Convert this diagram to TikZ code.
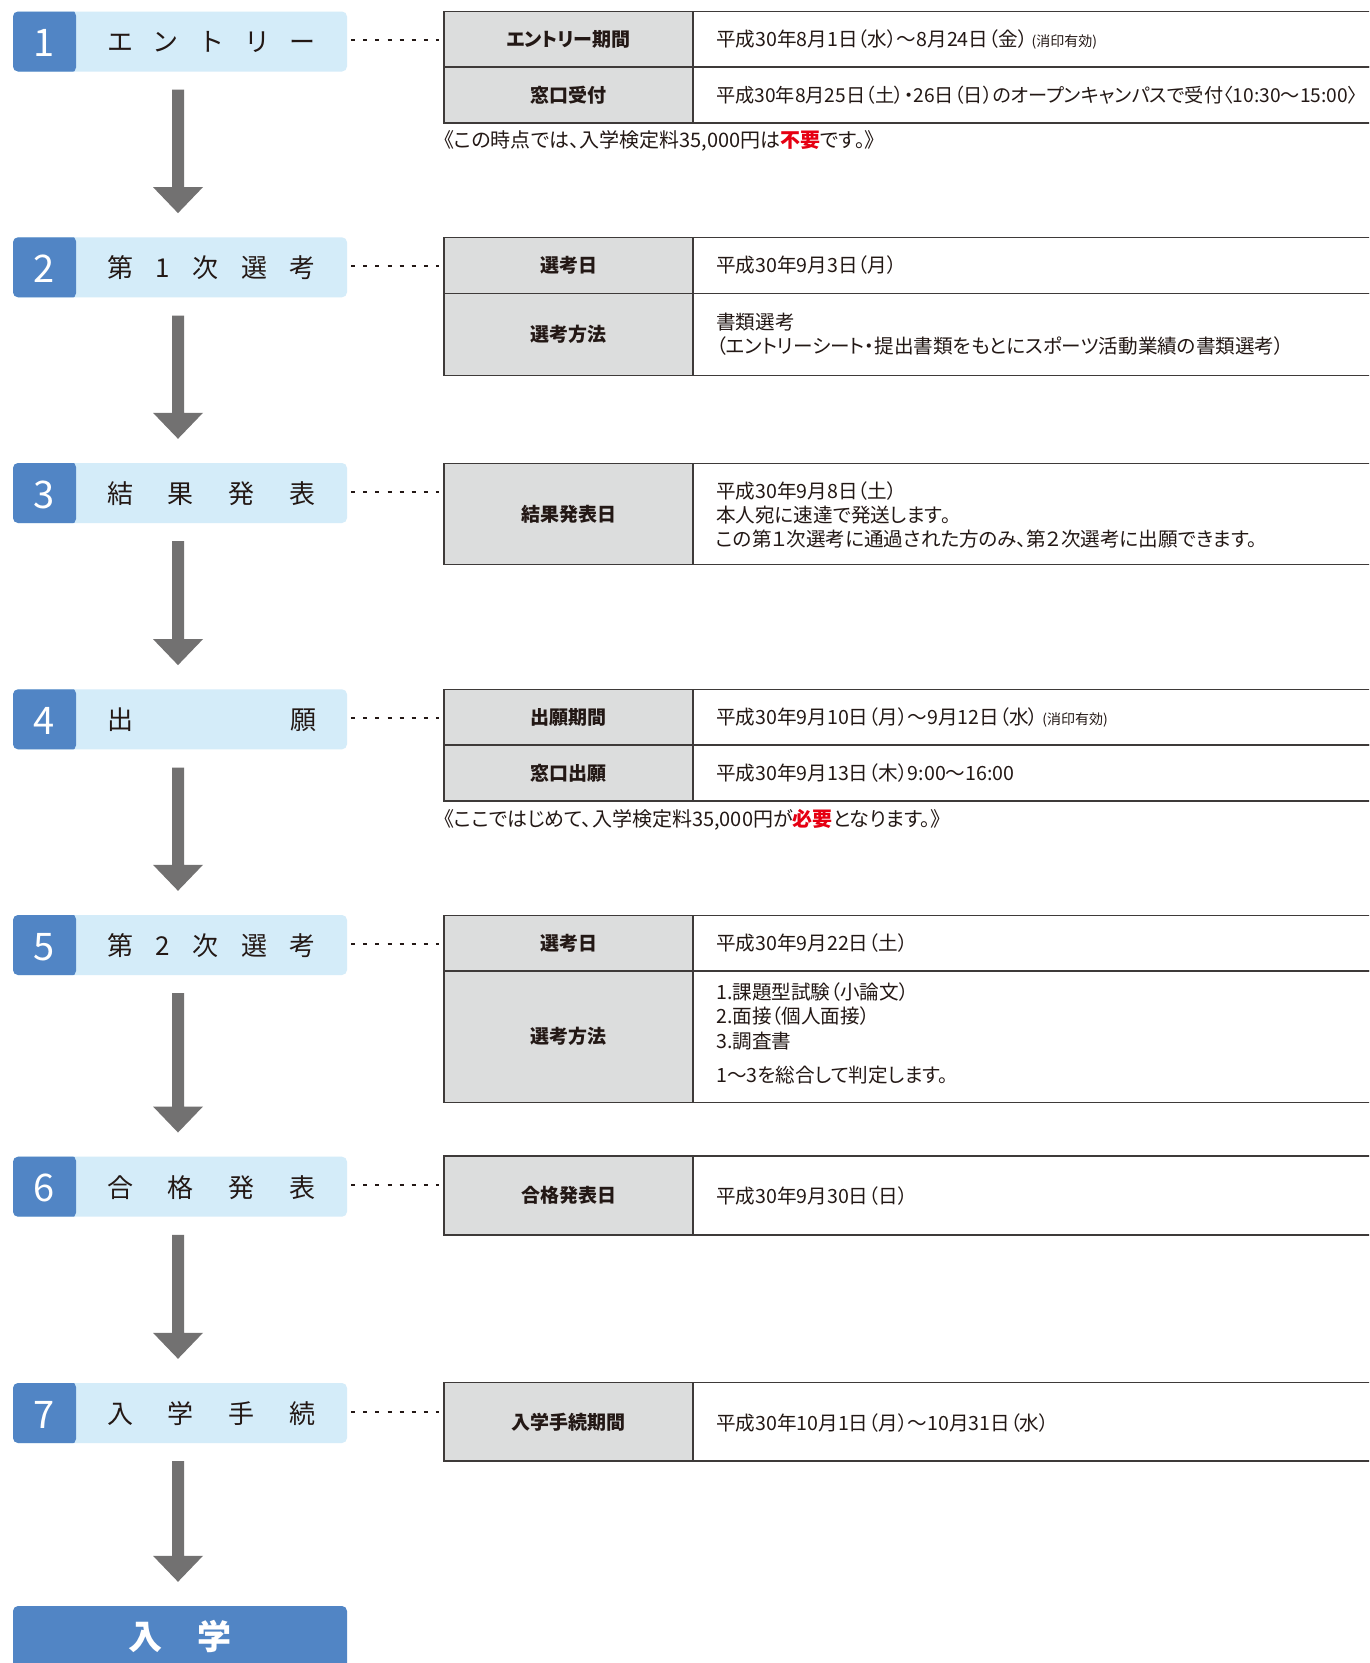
\documentclass[tikz,border=0pt]{standalone}
\usepackage{fontspec}
\setmainfont{Noto Sans CJK JP}[RawFeature=+palt]
\newfontfamily\labelfont{Noto Sans CJK JP}
\definecolor{numblue}{HTML}{5185C5}
\definecolor{lightblue}{HTML}{D4ECF9}
\definecolor{hdrgray}{HTML}{DCDDDD}
\definecolor{txt}{HTML}{231815}
\definecolor{arrgray}{HTML}{727171}
\definecolor{bordergray}{HTML}{3E3A39}
\definecolor{jpred}{HTML}{E60012}
\newcommand\flowarrow[2]{%
  \fill[arrgray] ([xshift=-8pt,yshift=-18pt]#1.south) -- ([xshift=4pt,yshift=-18pt]#1.south)
    -- ([xshift=4pt,yshift=50pt]#2.north) -- ([xshift=23pt,yshift=50pt]#2.north)
    -- ([xshift=-2pt,yshift=24pt]#2.north) -- ([xshift=-27pt,yshift=50pt]#2.north)
    -- ([xshift=-8pt,yshift=50pt]#2.north) -- cycle;}
\newcommand\smallnote[1]{\hspace{4pt}{\fontsize{14pt}{14pt}\selectfont #1}}
\begin{document}
\begin{tikzpicture}[x=1pt,y=-1pt,
  stepbox/.style={rectangle, rounded corners=5pt, fill=lightblue, minimum width=334pt,
    minimum height=60pt, inner sep=0pt,
    path picture={\fill[numblue] ([xshift=-1pt,yshift=1pt]path picture bounding box.north west)
      rectangle ([xshift=63pt,yshift=-1pt]path picture bounding box.south west);}},
  finalbox/.style={rectangle, rounded corners=5pt, fill=numblue, minimum width=334pt,
    minimum height=62pt, inner sep=0pt, text=white,
    font=\bfseries\fontsize{34pt}{34pt}\selectfont, text height=29.9pt, text depth=4.1pt},
  numtext/.style={text=white, inner sep=0pt, font=\labelfont\fontsize{38pt}{38pt}\selectfont,
    text height=28pt, text depth=0pt},
  steplabel/.style={text=txt, inner sep=0pt, font=\labelfont\fontsize{26pt}{26pt}\selectfont,
    text height=22.9pt, text depth=3.1pt},
  hdr/.style={draw=bordergray, line width=1.4pt, fill=hdrgray, minimum width=249pt, inner sep=0pt,
    text=txt, font=\bfseries\fontsize{19pt}{19pt}\selectfont, text height=16.7pt, text depth=2.3pt},
  valcell/.style={draw=bordergray, line width=1.4pt, fill=white, minimum width=700pt, inner sep=0pt},
  vt/.style={anchor=west, inner sep=0pt, text=txt, font=\fontsize{19.6pt}{19.6pt}\selectfont,
    text height=17.2pt, text depth=2.4pt},
  notet/.style={vt, font=\fontsize{20pt}{20pt}\selectfont, text height=17.6pt, text depth=2.4pt},
  dotline/.style={draw=txt, line width=2pt, dash pattern=on 4pt off 8.1pt}
]
\useasboundingbox (0,0) rectangle (1369,1663);
\clip (0,0) rectangle (1369,1663);
\fill[white] (0,0) rectangle (1369,1663);

% ---------------- step boxes ----------------
\node[stepbox] (s1) at (180,41.5) {};
\node[stepbox] (s2) at (180,267.3) {};
\node[stepbox] (s3) at (180,493) {};
\node[stepbox] (s4) at (180,719.3) {};
\node[stepbox] (s5) at (180,945) {};
\node[stepbox] (s6) at (180,1186.7) {};
\node[stepbox] (s7) at (180,1413) {};
\node[finalbox] (fin) at (180,1637) {入\hspace{36pt}学};

\node[numtext] (n1) at (44.5,42.5) {1};
\node[numtext] (n2) at (44.5,268.3) {2};
\node[numtext] (n3) at (44.5,494) {3};
\node[numtext] (n4) at (44.5,720.3) {4};
\node[numtext] (n5) at (44.5,946) {5};
\node[numtext] (n6) at (44.5,1187.7) {6};
\node[numtext] (n7) at (44.5,1414) {7};

\node[steplabel] (l1) at (211.5,42) {\makebox[209pt][s]{エ\hfill ン\hfill ト\hfill リ\hfill ー}};
\node[steplabel] (l2) at (211.5,267.8) {\makebox[209pt][s]{第\hfill 1\hfill 次\hfill 選\hfill 考}};
\node[steplabel] (l3) at (211.5,493.5) {\makebox[209pt][s]{結\hfill 果\hfill 発\hfill 表}};
\node[steplabel] (l4) at (211.5,719.8) {\makebox[209pt][s]{出\hfill 願}};
\node[steplabel] (l5) at (211.5,945.5) {\makebox[209pt][s]{第\hfill 2\hfill 次\hfill 選\hfill 考}};
\node[steplabel] (l6) at (211.5,1187.2) {\makebox[209pt][s]{合\hfill 格\hfill 発\hfill 表}};
\node[steplabel] (l7) at (211.5,1413.5) {\makebox[209pt][s]{入\hfill 学\hfill 手\hfill 続}};

% ---------------- arrows ----------------
\flowarrow{s1}{s2}
\flowarrow{s2}{s3}
\flowarrow{s3}{s4}
\flowarrow{s4}{s5}
\flowarrow{s5}{s6}
\flowarrow{s6}{s7}
\flowarrow{s7}{fin}

% ---------------- tables ----------------
% T1
\node[valcell, minimum height=55.3pt] (v1a) at (1043,39.35) {};
\node[valcell, minimum height=56pt] (v1b) at (1043,95) {};
\node[hdr, minimum height=55.3pt] (h1a) at (568.5,39.35) {エントリー期間};
\node[hdr, minimum height=56pt] (h1b) at (568.5,95) {窓口受付};
\node[vt] (x1a) at (716,39.5) {平成30年8月1日（水）～8月24日（金）\smallnote{(消印有効)}};
\node[vt, font=\fontsize{19.2pt}{19.2pt}\selectfont] (x1b) at (716,95.5) {平成30年8月25日（土）・26日（日）のオープンキャンパスで受付〈10:30～15:00〉};
\node[notet] (note1) at (444,140) {《この時点では、入学検定料35,000円は{\color{jpred}\bfseries 不要}です。》};

% T2
\node[valcell, minimum height=56pt] (v2a) at (1043,265.3) {};
\node[valcell, minimum height=82.4pt] (v2b) at (1043,334.5) {};
\node[hdr, minimum height=56pt] (h2a) at (568.5,265.3) {選考日};
\node[hdr, minimum height=82.4pt] (h2b) at (568.5,334.5) {選考方法};
\node[vt] (x2a) at (716,265.5) {平成30年9月3日（月）};
\node[vt] (x2b) at (716,322) {書類選考};
\node[vt] (x2c) at (716,346.5) {（エントリーシート・提出書類をもとにスポーツ活動業績の書類選考）};

% T3
\node[valcell, minimum height=101pt] (v3a) at (1043,513.8) {};
\node[hdr, minimum height=101pt] (h3a) at (568.5,513.8) {結果発表日};
\node[vt] (x3a) at (716,491.5) {平成30年9月8日（土）};
\node[vt] (x3b) at (716,515.5) {本人宛に速達で発送します。};
\node[vt] (x3c) at (716,539.5) {この第１次選考に通過された方のみ、第２次選考に出願できます。};

% T4
\node[valcell, minimum height=55.7pt] (v4a) at (1043,717.2) {};
\node[valcell, minimum height=56pt] (v4b) at (1043,773) {};
\node[hdr, minimum height=55.7pt] (h4a) at (568.5,717.2) {出願期間};
\node[hdr, minimum height=56pt] (h4b) at (568.5,773) {窓口出願};
\node[vt] (x4a) at (716,717.5) {平成30年9月10日（月）～9月12日（水）\smallnote{(消印有効)}};
\node[vt] (x4b) at (716,773.5) {平成30年9月13日（木）9:00～16:00};
\node[notet] (note4) at (444,819) {《ここではじめて、入学検定料35,000円が{\color{jpred}\bfseries 必要}となります。》};

% T5
\node[valcell, minimum height=55.3pt] (v5a) at (1043,943.3) {};
\node[valcell, minimum height=131.3pt] (v5b) at (1043,1036.7) {};
\node[hdr, minimum height=55.3pt] (h5a) at (568.5,943.3) {選考日};
\node[hdr, minimum height=131.3pt] (h5b) at (568.5,1036.7) {選考方法};
\node[vt] (x5a) at (716,943.5) {平成30年9月22日（土）};
\node[vt] (x5b) at (716,992) {1.課題型試験（小論文）};
\node[vt] (x5c) at (716,1016.5) {2.面接（個人面接）};
\node[vt] (x5d) at (716,1041) {3.調査書};
\node[vt] (x5e) at (716,1075) {1～3を総合して判定します。};

% T6
\node[valcell, minimum height=79pt] (v6a) at (1043,1195.5) {};
\node[hdr, minimum height=79pt] (h6a) at (568.5,1195.5) {合格発表日};
\node[vt] (x6a) at (716,1196.5) {平成30年9月30日（日）};

% T7
\node[valcell, minimum height=78.3pt] (v7a) at (1043,1421.9) {};
\node[hdr, minimum height=78.3pt] (h7a) at (568.5,1421.9) {入学手続期間};
\node[vt] (x7a) at (716,1423) {平成30年10月1日（月）～10月31日（水）};

% ---------------- dotted connectors ----------------
\draw[dotline] ([xshift=4pt,yshift=2pt]s1.east) -- ([xshift=-4pt,yshift=2pt]s1.east -| h1a.west);
\draw[dotline] ([xshift=4pt,yshift=1.5pt]s2.east) -- ([xshift=-4pt,yshift=1.5pt]s2.east -| h2a.west);
\draw[dotline] ([xshift=4pt,yshift=1.5pt]s3.east) -- ([xshift=-4pt,yshift=1.5pt]s3.east -| h3a.west);
\draw[dotline] ([xshift=4pt,yshift=1.5pt]s4.east) -- ([xshift=-4pt,yshift=1.5pt]s4.east -| h4a.west);
\draw[dotline] ([xshift=4pt,yshift=1.5pt]s5.east) -- ([xshift=-4pt,yshift=1.5pt]s5.east -| h5a.west);
\draw[dotline] ([xshift=4pt,yshift=1.5pt]s6.east) -- ([xshift=-4pt,yshift=1.5pt]s6.east -| h6a.west);
\draw[dotline] ([xshift=4pt,yshift=1.5pt]s7.east) -- ([xshift=-4pt,yshift=1.5pt]s7.east -| h7a.west);
\end{tikzpicture}
\end{document}
